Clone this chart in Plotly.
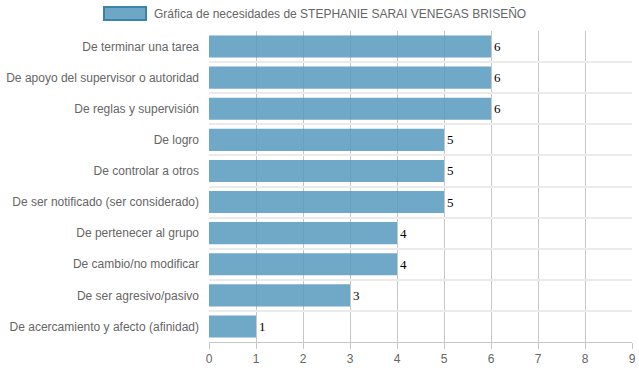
import plotly.graph_objects as go

categories = [
    "De terminar una tarea",
    "De apoyo del supervisor o autoridad",
    "De reglas y supervisión",
    "De logro",
    "De controlar a otros",
    "De ser notificado (ser considerado)",
    "De pertenecer al grupo",
    "De cambio/no modificar",
    "De ser agresivo/pasivo",
    "De acercamiento y afecto (afinidad)",
]
values = [6, 6, 6, 5, 5, 5, 4, 4, 3, 1]
series_name = "Gráfica de necesidades de STEPHANIE SARAI VENEGAS BRISEÑO"
x_ticks = list(range(0, 10))

fig = go.Figure()
fig.add_trace(go.Bar(
    x=values, y=categories, orientation="h", name=series_name,
    marker=dict(color="rgba(88,154,190,0.86)", line=dict(width=0)),
    text=[str(v) for v in values], textposition="outside",
    textfont=dict(family="Liberation Serif", size=13, color="#000"),
    cliponaxis=False, showlegend=False,
))

fig.update_layout(
    width=639, height=372,
    margin=dict(l=209, r=7, t=31, b=30, autoexpand=False),
    paper_bgcolor="white", plot_bgcolor="white",
    bargap=0.29,
    font=dict(family="Liberation Sans, Arial", size=12, color="#666"),
    shapes=[dict(type="rect", xref="paper", yref="paper",
                 xsizemode="pixel", ysizemode="pixel",
                 xanchor=0, yanchor=1,
                 x0=-105, x1=-63, y0=24, y1=11,
                 fillcolor="rgba(110,166,197,1)", line=dict(color="#3b84a8", width=2))],
    annotations=[dict(text=series_name, xref="paper", yref="paper",
                      x=0, y=1, xshift=-57, yshift=17, xanchor="left", yanchor="middle",
                      showarrow=False, font=dict(size=12, color="#666"))],
)

fig.update_xaxes(
    range=[0, 9], tickvals=x_ticks, showgrid=True, gridcolor="rgba(0,0,0,0.22)", gridwidth=1,
    zeroline=False, showline=True, linecolor="rgba(0,0,0,0.22)",
    ticks="outside", ticklen=6, tickcolor="rgba(0,0,0,0.22)",
    tickfont=dict(size=12, color="#666"), automargin=False,
)
fig.update_yaxes(
    type="category", categoryorder="array", categoryarray=categories,
    autorange="reversed", tickson="boundaries", showgrid=True,
    gridcolor="#ebebeb", gridwidth=2, ticks="", ticklen=0,
    showline=False, zeroline=False, ticklabelstandoff=9,
    tickfont=dict(size=12, color="#666"), automargin=False,
)

fig.write_html("out.html", config={"displayModeBar": False},
               post_script="document.body.style.margin='0';document.body.style.overflow='hidden';")
